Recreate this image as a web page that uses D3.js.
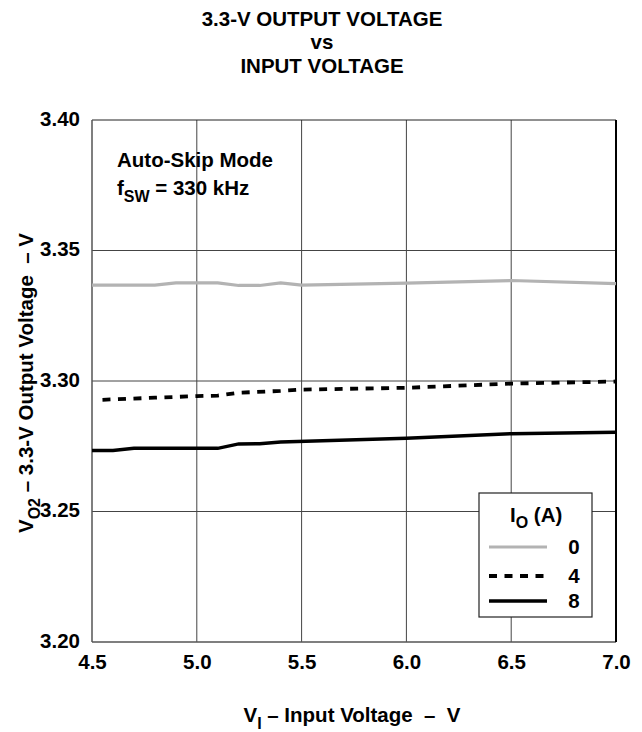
<!DOCTYPE html>
<html><head><meta charset="utf-8">
<script src="https://cdn.jsdelivr.net/npm/d3@7/dist/d3.min.js"></script>
<style>body{margin:0;background:#fff}svg{display:block}text{font-family:"Liberation Sans",Arial,sans-serif;font-weight:bold;fill:#000}</style>
</head><body><svg id="c" width="642" height="732"></svg>
<script>
const xTicks = [4.5, 5.0, 5.5, 6.0, 6.5, 7.0];
const yTicks = [3.20, 3.25, 3.30, 3.35, 3.40];
const vin0 = [4.5, 4.6, 4.7, 4.8, 4.9, 5.0, 5.1, 5.2, 5.3, 5.4, 5.5, 6.0, 6.5, 7.0];
const vout0 = [3.3367, 3.3367, 3.3367, 3.3367, 3.3376, 3.3376, 3.3376, 3.3366, 3.3366, 3.3376, 3.3367, 3.3375, 3.3385, 3.3373];
const vin4 = [4.55, 4.8, 5.0, 5.1, 5.2, 5.4, 5.5, 6.0, 6.5, 7.0];
const vout4 = [3.2928, 3.2936, 3.2942, 3.2944, 3.2955, 3.2962, 3.2967, 3.2974, 3.2990, 3.2998];
const vin8 = [4.5, 4.6, 4.7, 5.1, 5.2, 5.3, 5.4, 6.0, 6.5, 7.0];
const vout8 = [3.2734, 3.2734, 3.2742, 3.2742, 3.2759, 3.2760, 3.2766, 3.2781, 3.2798, 3.2804];
const legendLabels = ["0", "4", "8"];

const FF = '"Liberation Sans",Arial,sans-serif';
const FS = 20.5, SUB = 16;
const svg = d3.select("#c");
const L = 92, R = 616, T = 120, B = 642;
const x = d3.scaleLinear().domain([4.5, 7.0]).range([L, R]);
const y = d3.scaleLinear().domain([3.20, 3.40]).range([B, T]);

// title
const title = ["3.3-V OUTPUT VOLTAGE", "vs", "INPUT VOLTAGE"];
title.forEach((t, i) => svg.append("text").attr("x", 322).attr("y", [26, 49, 73][i])
  .attr("text-anchor", "middle").attr("font-size", 20.5).text(t));

// grid
const g = svg.append("g");
g.selectAll(".vg").data(xTicks.slice(1, -1)).enter().append("line")
  .attr("x1", d => x(d)).attr("x2", d => x(d)).attr("y1", T).attr("y2", B)
  .attr("stroke", "#444").attr("stroke-width", 1);
g.selectAll(".hg").data(yTicks.slice(1, -1)).enter().append("line")
  .attr("x1", L).attr("x2", R).attr("y1", d => y(d)).attr("y2", d => y(d))
  .attr("stroke", "#444").attr("stroke-width", 1);

// axes (labels via d3 axis)
const xAxis = svg.append("g").attr("transform", `translate(0,${B})`)
  .call(d3.axisBottom(x).tickValues(xTicks).tickFormat(d3.format(".1f")).tickSize(0).tickPadding(14));
xAxis.select(".domain").remove();
xAxis.selectAll("text").attr("font-size", FS).attr("font-family", FF).attr("font-weight", "bold").attr("dy", "0.62em");
const yAxis = svg.append("g").attr("transform", `translate(${L},0)`)
  .call(d3.axisLeft(y).tickValues(yTicks).tickFormat(d3.format(".2f")).tickSize(0).tickPadding(12));
yAxis.select(".domain").remove();
yAxis.selectAll("text").attr("font-size", FS).attr("font-family", FF).attr("font-weight", "bold").attr("dy", "0.25em");

// frame
svg.append("line").attr("x1", L).attr("x2", R).attr("y1", T).attr("y2", T).attr("stroke", "#222").attr("stroke-width", 1);
svg.append("line").attr("x1", L).attr("x2", L).attr("y1", T).attr("y2", B).attr("stroke", "#555").attr("stroke-width", 1.5);
svg.append("line").attr("x1", L).attr("x2", R).attr("y1", B).attr("y2", B).attr("stroke", "#555").attr("stroke-width", 1.5);
svg.append("line").attr("x1", R).attr("x2", R).attr("y1", T).attr("y2", B).attr("stroke", "#000").attr("stroke-width", 2);

// lines
const line = d3.line().x(d => x(d[0])).y(d => y(d[1]));
const series = [
  {xs: vin0, ys: vout0, color: "#b3b3b3", w: 3.2, dash: null},
  {xs: vin4, ys: vout4, color: "#000", w: 3.8, dash: "8,7.5"},
  {xs: vin8, ys: vout8, color: "#000", w: 3.5, dash: null}
];
series.forEach(s => {
  svg.append("path").datum(s.xs.map((v, i) => [v, s.ys[i]]))
    .attr("d", line).attr("fill", "none").attr("stroke", s.color)
    .attr("stroke-width", s.w).attr("stroke-dasharray", s.dash);
});

// annotation
svg.append("text").attr("x", 117).attr("y", 167).attr("font-size", FS).text("Auto-Skip Mode");
const ann = svg.append("text").attr("x", 117).attr("y", 195).attr("font-size", FS);
ann.append("tspan").text("f");
ann.append("tspan").attr("dy", 7).attr("font-size", SUB).text("SW");
ann.append("tspan").attr("dy", -7).text(" = 330 kHz");

// legend
const lx = 479, ly = 493, lw = 113, lh = 124;
svg.append("rect").attr("x", lx).attr("y", ly).attr("width", lw).attr("height", lh)
  .attr("fill", "#fff").attr("stroke", "#222").attr("stroke-width", 1.2);
const lt = svg.append("text").attr("x", 510).attr("y", 522).attr("font-size", FS);
lt.append("tspan").text("I");
lt.append("tspan").attr("dy", 6).attr("font-size", SUB).text("O");
lt.append("tspan").attr("dy", -6).text(" (A)");
const legY = [547, 576, 601];
series.forEach((s, i) => {
  svg.append("line").attr("x1", 489).attr("x2", 547).attr("y1", legY[i]).attr("y2", legY[i])
    .attr("stroke", s.color).attr("stroke-width", s.w).attr("stroke-dasharray", s.dash);
  svg.append("text").attr("x", 574).attr("y", legY[i] + 7).attr("text-anchor", "middle")
    .attr("font-size", FS).text(legendLabels[i]);
});

// axis titles
const xt = svg.append("text").attr("x", 352).attr("y", 722).attr("text-anchor", "middle").attr("font-size", FS);
xt.append("tspan").text("V");
xt.append("tspan").attr("dy", 7).attr("font-size", SUB).text("I");
xt.append("tspan").attr("dy", -7).text(" \u2013 Input Voltage \u00a0\u2013 \u00a0V");

const yt = svg.append("text").attr("transform", "translate(33,383) rotate(-90)").attr("text-anchor", "middle").attr("font-size", FS);
yt.append("tspan").text("V");
yt.append("tspan").attr("dy", 7).attr("font-size", SUB).text("O2");
yt.append("tspan").attr("dy", -7).text(" \u2013 3.3-V Output Voltage \u00a0\u2013 V");
</script></body></html>
